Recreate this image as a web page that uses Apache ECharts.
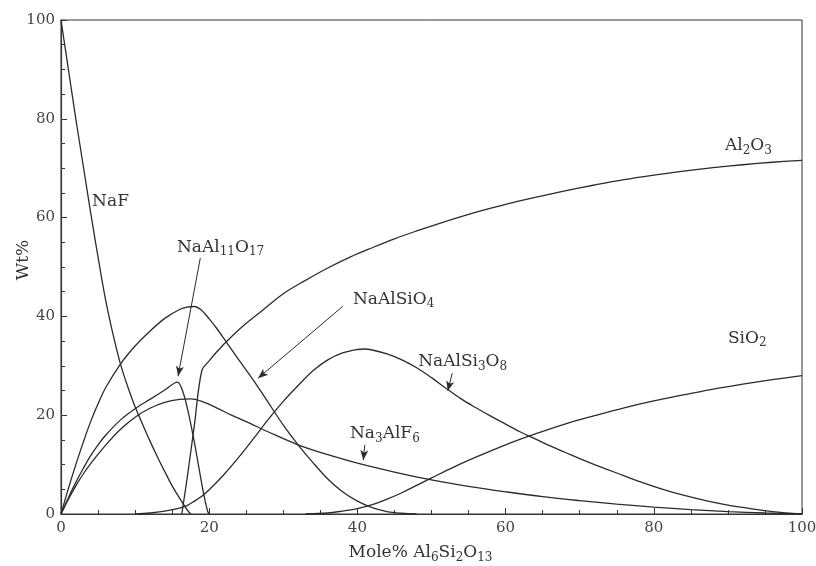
<!DOCTYPE html>
<html>
<head>
<meta charset="utf-8">
<script src="https://cdn.jsdelivr.net/npm/echarts@6/dist/echarts.min.js"></script>
<style>
  html, body { margin: 0; background: #fff; }
  #main { width: 816px; height: 566px; }
</style>
</head>
<body>
<div id="main"></div>
<script>
// curves: [mole% Al6Si2O13, wt%]
var nafData = [[0, 100], [1, 90], [2, 80], [3, 70.5], [4, 61], [5, 52], [6, 43.5], [7, 36.5], [8, 30.5],
  [9, 25.8], [10, 21.7], [11, 18.2], [12, 14.8], [13, 11.6], [14, 8.6], [15, 5.7], [16, 3.2], [17, 0.9], [17.5, 0]];

var nephelineData = [[0, 0], [1, 5.2], [2, 10], [3, 14.5], [4, 18.7], [5, 22.3], [6, 25.5], [8, 30.3], [10, 34],
  [12, 37], [14, 39.6], [16, 41.4], [17, 41.9], [18, 42], [19, 41.2], [20, 39.5], [21, 37.6], [22, 35.5],
  [24, 31.2], [26, 27], [28, 22.5], [30, 18], [32, 14], [34, 10.4], [36, 7.1], [38, 4.5], [40, 2.6],
  [42, 1.3], [44, 0.5], [46, 0.15], [48, 0]];

var betaAluminaData = [[0, 0], [1, 3.3], [2, 6.4], [3, 9.2], [4, 11.8], [5, 14], [6, 15.9], [8, 19],
  [10, 21.3], [12, 23.2], [14, 25.1], [15.7, 26.7], [16.5, 24.5], [17.2, 20.4], [18, 14.5], [18.5, 10.3],
  [19.2, 4.5], [19.8, 0.5], [20, 0]];

var cryoliteData = [[0, 0], [1, 3], [2, 5.7], [3, 8.1], [4, 10.2], [6, 13.9], [8, 17.1], [10, 19.6], [12, 21.4],
  [14, 22.6], [16, 23.2], [17.5, 23.3], [19, 22.8], [21, 21.5], [23, 20], [25, 18.7], [28, 16.6], [32, 14],
  [36, 12], [40, 10.3], [45, 8.5], [50, 6.9], [55, 5.6], [60, 4.5], [65, 3.5], [70, 2.7], [75, 2], [80, 1.4],
  [85, 0.9], [90, 0.5], [95, 0.2], [100, 0]];

var albiteData = [[10, 0], [12, 0.2], [14, 0.6], [16, 1.2], [17, 1.7], [18, 2.6], [19, 3.6], [20, 4.9], [22, 8],
  [24, 11.5], [26, 15.3], [28, 19.2], [30, 22.8], [32, 26], [34, 29], [36, 31.2], [38, 32.6], [40, 33.3],
  [41, 33.4], [42, 33.2], [44, 32.4], [46, 31.2], [48, 29.6], [50, 27.6], [52, 25.4], [54, 23.3], [56, 21.5],
  [58, 19.8], [60, 18.2], [62, 16.6], [64, 15.2], [66, 13.8], [68, 12.5], [70, 11.2], [72, 10], [75, 8.3],
  [78, 6.6], [81, 5.1], [84, 3.8], [87, 2.7], [90, 1.8], [93, 1.1], [96, 0.5], [100, 0]];

var silicaData = [[33, 0], [36, 0.2], [38, 0.6], [40, 1.1], [42, 1.9], [44, 3], [46, 4.3], [48, 5.8], [50, 7.3],
  [53, 9.5], [56, 11.5], [60, 14], [64, 16.2], [68, 18.2], [72, 19.9], [76, 21.5], [80, 22.9], [84, 24.1],
  [88, 25.3], [92, 26.3], [96, 27.2], [100, 28]];

var aluminaData = [[16.3, 0], [17, 7], [18, 18], [19, 29], [20, 31], [21, 32.8], [22, 34.4], [23, 35.9],
  [25, 38.6], [27, 41], [30, 44.6], [33, 47.3], [36, 49.8], [39, 52], [42, 53.9], [45, 55.7], [48, 57.3],
  [51, 58.8], [54, 60.2], [57, 61.5], [60, 62.7], [64, 64.1], [68, 65.4], [72, 66.6], [76, 67.7],
  [80, 68.6], [84, 69.4], [88, 70.1], [92, 70.7], [96, 71.2], [100, 71.6]];

var xTicks = [0, 20, 40, 60, 80, 100];
var yTicks = [0, 20, 40, 60, 80, 100];

// label anchors (left edge, vertical middle) and pointer arrows, in data units
var labels = [
  { text: "NaF", at: [4.2, 63.2] },
  { text: "NaAl{s|11}O{s|17}", at: [15.65, 54.0] },
  { text: "NaAlSiO{s|4}", at: [39.4, 43.5] },
  { text: "NaAlSi{s|3}O{s|8}", at: [48.2, 30.8] },
  { text: "Na{s|3}AlF{s|6}", at: [39.0, 16.2] },
  { text: "Al{s|2}O{s|3}", at: [89.6, 74.5] },
  { text: "SiO{s|2}", at: [90.0, 35.6] }
];
var arrows = [
  [[18.8, 51.8], [15.8, 27.9]],
  [[38.0, 42.0], [26.6, 27.5]],
  [[52.8, 28.5], [52.2, 24.9]],
  [[41.0, 14.0], [40.8, 10.9]]
];

var ink = "#2b2b2b";
var serif = "DejaVu Serif";

function curve(name, data) {
  return {
    name: name,
    type: "line",
    data: data,
    showSymbol: false,
    smooth: 0.35,
    silent: true,
    lineStyle: { color: ink, width: 1.3 }
  };
}

var chart = echarts.init(document.getElementById("main"));

var series = [
  curve("NaF", nafData),
  curve("NaAlSiO4", nephelineData),
  curve("NaAl11O17", betaAluminaData),
  curve("Na3AlF6", cryoliteData),
  curve("NaAlSi3O8", albiteData),
  curve("SiO2", silicaData),
  curve("Al2O3", aluminaData)
];
// arrows pointing from labels to curves
series.push({
  type: "line",
  data: [],
  silent: true,
  markLine: {
    silent: true,
    animation: false,
    symbol: ["none", "arrow"],
    symbolSize: [6, 10],
    label: { show: false },
    lineStyle: { color: ink, width: 1, type: "solid" },
    data: arrows.map(function (a) {
      return [{ coord: a[0] }, { coord: a[1] }];
    })
  }
});

chart.setOption({
  animation: false,
  backgroundColor: "#fff",
  grid: {
    left: 61, right: 14, top: 20, bottom: 52,
    containLabel: false,
    outerBoundsMode: "none",
    show: true, borderColor: "#333", borderWidth: 1
  },
  xAxis: {
    type: "value",
    min: 0, max: 100, interval: 20,
    name: "Mole% Al{s|6}Si{s|2}O{s|13}",
    nameLocation: "middle",
    nameGap: 28,
    nameTextStyle: {
      fontFamily: serif, fontSize: 17, color: "#333", lineHeight: 22,
      padding: [0, 22, 0, 0],
      rich: { s: { fontFamily: serif, fontSize: 12, lineHeight: 8, verticalAlign: "bottom", color: "#333" } }
    },
    axisLine: { lineStyle: { color: "#333", width: 1.2 } },
    axisTick: { inside: true, length: 6, lineStyle: { color: "#333" } },
    minorTick: { show: true, splitNumber: 4, length: 4, lineStyle: { color: "#333" } },
    splitLine: { show: false },
    axisLabel: {
      fontFamily: serif, fontSize: 15, color: "#444", margin: 7,
      formatter: function (v) { return xTicks.indexOf(v) >= 0 ? String(v) : ""; }
    }
  },
  yAxis: {
    type: "value",
    min: 0, max: 100, interval: 20,
    name: "Wt%",
    nameLocation: "middle",
    nameGap: 29,
    nameMoveOverlap: false,
    nameTextStyle: { fontFamily: serif, fontSize: 17, color: "#333", padding: [0, 0, 0, 14] },
    axisLine: { lineStyle: { color: "#333", width: 1.2 } },
    axisTick: { inside: true, length: 6, lineStyle: { color: "#333" } },
    minorTick: { show: true, splitNumber: 4, length: 4, lineStyle: { color: "#333" } },
    splitLine: { show: false },
    axisLabel: {
      fontFamily: serif, fontSize: 15, color: "#444", margin: 6,
      formatter: function (v) { return yTicks.indexOf(v) >= 0 ? String(v) : ""; }
    }
  },
  series: series
});

// place the compound names next to their curves
chart.setOption({
  graphic: labels.map(function (l) {
    var p = chart.convertToPixel({ gridIndex: 0 }, l.at);
    return {
      type: "text",
      x: p[0],
      y: p[1],
      silent: true,
      style: {
        text: l.text,
        fontFamily: serif,
        fontSize: 17,
        lineHeight: 22,
        fill: "#333",
        align: "left",
        verticalAlign: "middle",
        rich: {
          s: { fontFamily: serif, fontSize: 12, lineHeight: 8, verticalAlign: "bottom", fill: "#333" }
        }
      }
    };
  })
});
</script>
</body>
</html>
